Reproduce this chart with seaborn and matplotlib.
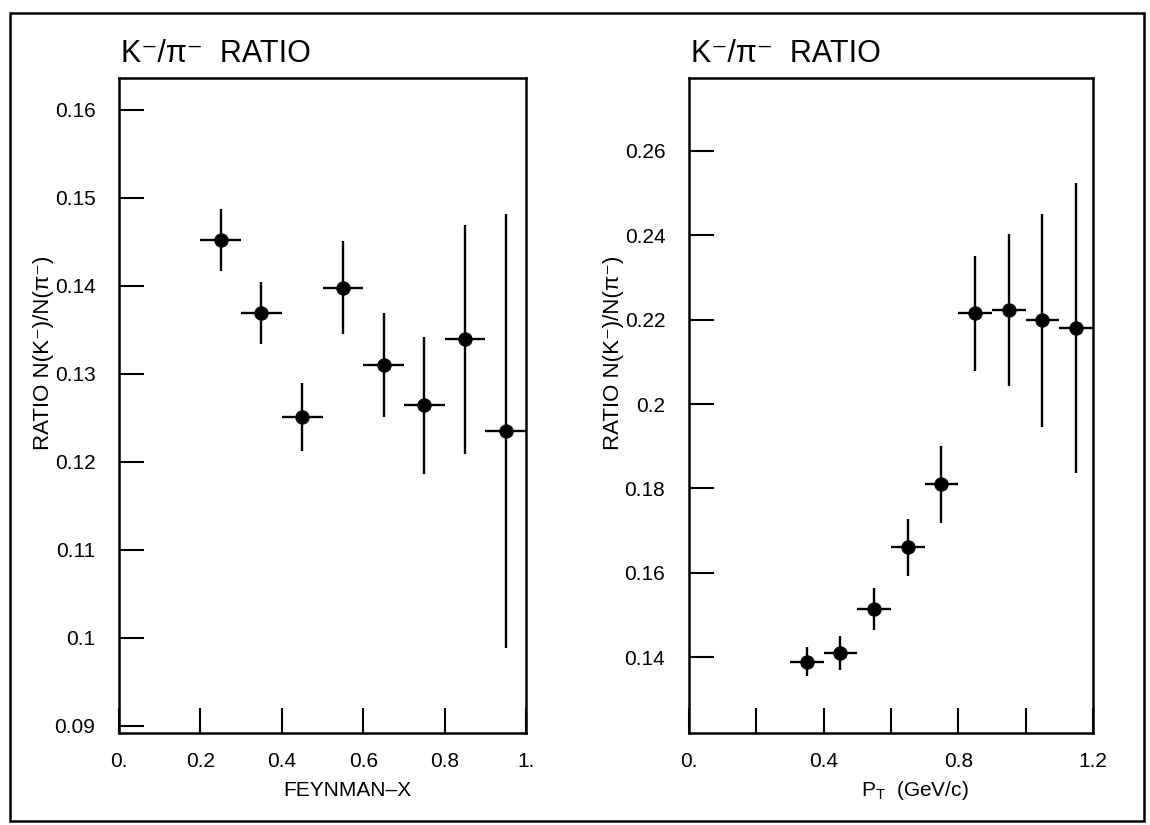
import numpy as np
import pandas as pd
import matplotlib
matplotlib.use("Agg")
import matplotlib.pyplot as plt
from matplotlib.patches import Rectangle
import seaborn as sns

# K-/pi- ratio as a function of Feynman-x
xf_bins = [0.25, 0.35, 0.45, 0.55, 0.65, 0.75, 0.85, 0.95]
xf_ratio = [0.1452, 0.1369, 0.1251, 0.1398, 0.1310, 0.1264, 0.1339, 0.1235]
xf_err = [0.0035, 0.0035, 0.0039, 0.0053, 0.0059, 0.0078, 0.0130, 0.0247]
xf_halfwidth = 0.05

# K-/pi- ratio as a function of transverse momentum
pt_bins = [0.35, 0.45, 0.55, 0.65, 0.75, 0.85, 0.95, 1.05, 1.15]
pt_ratio = [0.1389, 0.1410, 0.1514, 0.1660, 0.1810, 0.2215, 0.2222, 0.2198, 0.2180]
pt_err = [0.0035, 0.0040, 0.0050, 0.0068, 0.0091, 0.0136, 0.0180, 0.0252, 0.0344]
pt_halfwidth = 0.05

xf_ticks = [0.0, 0.2, 0.4, 0.6, 0.8, 1.0]
xf_ticklabels = ["0.", "0.2", "0.4", "0.6", "0.8", "1."]
xf_yticks = [0.09, 0.10, 0.11, 0.12, 0.13, 0.14, 0.15, 0.16]
xf_yticklabels = ["0.09", "0.1", "0.11", "0.12", "0.13", "0.14", "0.15", "0.16"]

pt_ticks = [0.0, 0.4, 0.8, 1.2]
pt_ticklabels = ["0.", "0.4", "0.8", "1.2"]
pt_minor_ticks = [0.2, 0.6, 1.0]
pt_yticks = [0.14, 0.16, 0.18, 0.20, 0.22, 0.24, 0.26]
pt_yticklabels = ["0.14", "0.16", "0.18", "0.2", "0.22", "0.24", "0.26"]

title_text = "K\u207b/\u03c0\u207b  RATIO"
ylabel_text = "RATIO N(K\u207b)/N(\u03c0\u207b)"

sns.set_style("white")
plt.rcParams["font.family"] = ["Liberation Sans", "DejaVu Sans"]
plt.rcParams["mathtext.fontset"] = "custom"
plt.rcParams["mathtext.rm"] = "Liberation Sans"
plt.rcParams["mathtext.it"] = "Liberation Sans"
plt.rcParams["text.color"] = "black"
plt.rcParams["axes.labelcolor"] = "black"
plt.rcParams["xtick.color"] = "black"
plt.rcParams["ytick.color"] = "black"

fig = plt.figure(figsize=(11.5, 8.25), dpi=100)
fig.patch.set_facecolor("white")

ax1 = fig.add_axes([0.1035, 0.1115, 0.3539, 0.794])
ax2 = fig.add_axes([0.5991, 0.1115, 0.3513, 0.794])


def draw_points(ax, x, y, err, halfwidth):
    df = pd.DataFrame({"x": x, "ratio": y, "err": err})
    ax.errorbar(df["x"], df["ratio"], xerr=halfwidth, yerr=df["err"],
                fmt="none", ecolor="black", elinewidth=1.7, capsize=0,
                zorder=2)
    sns.scatterplot(data=df, x="x", y="ratio", ax=ax, color="black",
                    s=95, edgecolor="black", linewidth=0.6, zorder=3,
                    legend=False)


def style_axes(ax):
    for sp in ax.spines.values():
        sp.set_visible(True)
        sp.set_color("black")
        sp.set_linewidth(1.8)
    ax.tick_params(axis="both", which="both", direction="in", length=18,
                   width=1.5, labelsize=15, bottom=True, left=True,
                   top=False, right=False)
    ax.tick_params(axis="x", which="both", pad=14)
    ax.tick_params(axis="y", which="both", pad=17)
    ax.set_facecolor("white")


draw_points(ax1, xf_bins, xf_ratio, xf_err, xf_halfwidth)
ax1.set_xlim(0.0, 1.0)
ax1.set_ylim(0.0892, 0.1636)
ax1.set_xticks(xf_ticks)
ax1.set_xticklabels(xf_ticklabels)
ax1.set_yticks(xf_yticks)
ax1.set_yticklabels(xf_yticklabels)
style_axes(ax1)
ax1.set_xlabel("FEYNMAN\u2013X", fontsize=15)
ax1.set_ylabel(ylabel_text, fontsize=16)

draw_points(ax2, pt_bins, pt_ratio, pt_err, pt_halfwidth)
ax2.set_xlim(0.0, 1.2)
ax2.set_ylim(0.122, 0.2773)
ax2.set_xticks(pt_ticks)
ax2.set_xticklabels(pt_ticklabels)
ax2.set_xticks(pt_minor_ticks, minor=True)
ax2.set_yticks(pt_yticks)
ax2.set_yticklabels(pt_yticklabels)
style_axes(ax2)
ax2.set_xlabel(r"P$_{\mathrm{T}}$  (GeV/c)", fontsize=15)
ax2.set_ylabel(ylabel_text, fontsize=16)

for ax in (ax1, ax2):
    ax.xaxis.label.set_va("center")
    ax.yaxis.label.set_va("center")
    ax.xaxis.set_label_coords(0.56, -0.087)
    ax.yaxis.set_label_coords(-0.186, 0.58)
    # panel heading sits just above the frame, flush with its left edge
    ax.text(0.005, 1.025, title_text, transform=ax.transAxes, ha="left",
            va="baseline", fontsize=22)

# outer border around both panels
fig.add_artist(Rectangle((10 / 1150, 4 / 825), 1134 / 1150, 808 / 825,
                         transform=fig.transFigure, fill=False,
                         edgecolor="black", linewidth=1.8))

fig.savefig("out.png", dpi=100, facecolor="white")
